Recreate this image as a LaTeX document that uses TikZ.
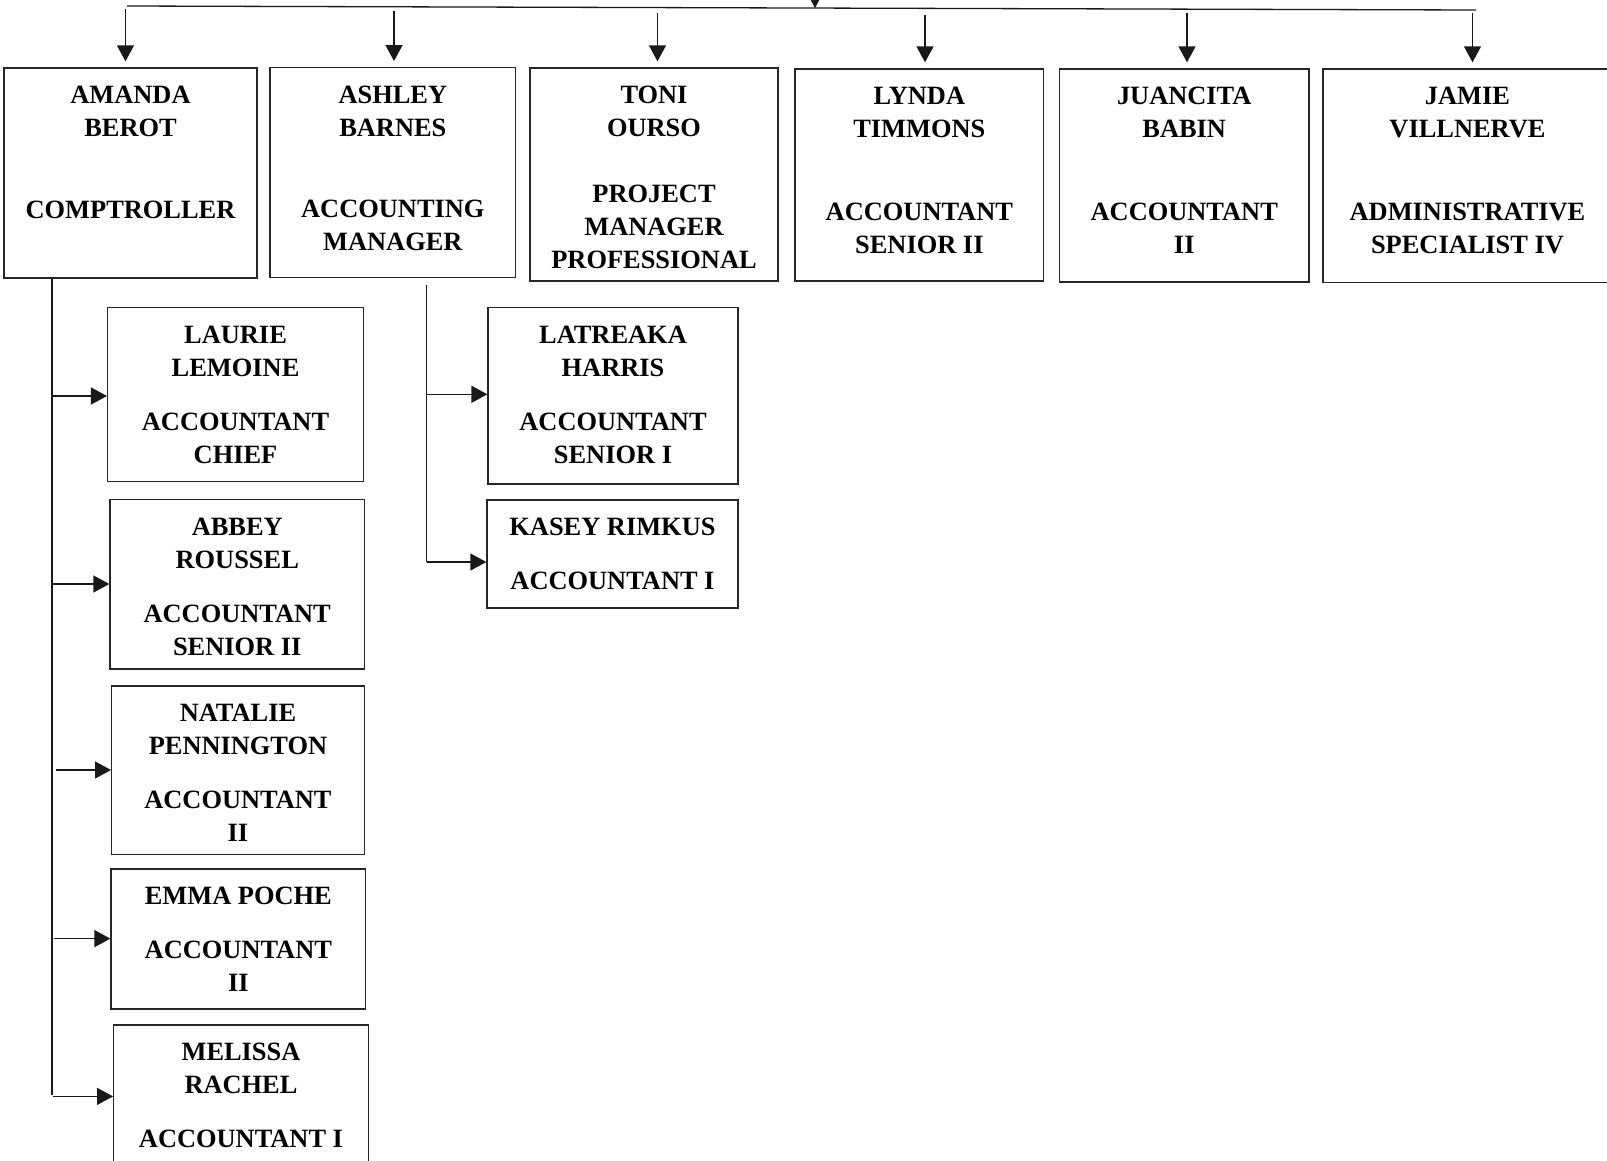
\documentclass[tikz,border=0pt]{standalone}
\usepackage{fontspec}
\setmainfont{Liberation Serif}
\usetikzlibrary{arrows.meta,fit,calc}
\begin{document}
\begin{tikzpicture}[x=1pt,y=-1pt,
  pbox/.style={draw=black!85,line width=1.3pt,inner sep=0pt,rectangle},
  ptxt/.style={anchor=base,inner sep=0pt,font=\fontsize{26.4}{33}\selectfont\bfseries},
  conn/.style={line width=1.3pt,black!90},
  arr/.style={conn,-{Triangle[length=16pt,width=17pt]}}]
\useasboundingbox (0,0) rectangle (1607,1160);
\clip (0,0) rectangle (1607,1160);
% boxes
\node[pbox,fit={(4,68) (257,278)}] (amanda) {};
\node[pbox,fit={(270,67.7) (515.7,277.7)}] (ashley) {};
\node[pbox,fit={(530,68) (778,281)}] (toni) {};
\node[pbox,fit={(795,69) (1043.7,281)}] (lynda) {};
\node[pbox,fit={(1059.5,69) (1309,282)}] (juancita) {};
\node[pbox,fit={(1323,69) (1612,282.7)}] (jamie) {};
\node[pbox,fit={(107.6,307.7) (363.5,481.7)}] (laurie) {};
\node[pbox,fit={(110,499.7) (364.5,669)}] (abbey) {};
\node[pbox,fit={(111.7,686) (364.3,854.6)}] (natalie) {};
\node[pbox,fit={(111,869) (365.7,1009)}] (emma) {};
\node[pbox,fit={(113.7,1025) (368.3,1190)}] (melissa) {};
\node[pbox,fit={(488,307.7) (738,484)}] (latreaka) {};
\node[pbox,fit={(487,500) (738,608)}] (kasey) {};
% texts
\node[ptxt] (amandaT) at ($(amanda.north)+(0,36)$) {\begin{tabular}[t]{c}AMANDA\\BEROT\\[48.7pt]COMPTROLLER\end{tabular}};
\node[ptxt] (ashleyT) at ($(ashley.north)+(0,36)$) {\begin{tabular}[t]{c}ASHLEY\\BARNES\\[48.7pt]ACCOUNTING\\MANAGER\end{tabular}};
\node[ptxt] (toniT) at ($(toni.north)+(0,36)$) {\begin{tabular}[t]{c}TONI\\OURSO\\[33pt]PROJECT\\MANAGER\\PROFESSIONAL\end{tabular}};
\node[ptxt] (lyndaT) at ($(lynda.north)+(0,36)$) {\begin{tabular}[t]{c}LYNDA\\TIMMONS\\[50pt]ACCOUNTANT\\SENIOR II\end{tabular}};
\node[ptxt] (juancitaT) at ($(juancita.north)+(0,36)$) {\begin{tabular}[t]{c}JUANCITA\\BABIN\\[50pt]ACCOUNTANT\\II\end{tabular}};
\node[ptxt] (jamieT) at ($(jamie.north)+(0,36)$) {\begin{tabular}[t]{c}JAMIE\\VILLNERVE\\[50pt]ADMINISTRATIVE\\SPECIALIST IV\end{tabular}};
\node[ptxt] (laurieT) at ($(laurie.north)+(0,36)$) {\begin{tabular}[t]{c}LAURIE\\LEMOINE\\[21.5pt]ACCOUNTANT\\CHIEF\end{tabular}};
\node[ptxt] (abbeyT) at ($(abbey.north)+(0,36)$) {\begin{tabular}[t]{c}ABBEY\\ROUSSEL\\[21.5pt]ACCOUNTANT\\SENIOR II\end{tabular}};
\node[ptxt] (natalieT) at ($(natalie.north)+(0,36)$) {\begin{tabular}[t]{c}NATALIE\\PENNINGTON\\[21.5pt]ACCOUNTANT\\II\end{tabular}};
\node[ptxt] (emmaT) at ($(emma.north)+(0,36)$) {\begin{tabular}[t]{c}EMMA POCHE\\[21.5pt]ACCOUNTANT\\II\end{tabular}};
\node[ptxt] (melissaT) at ($(melissa.north)+(0,36)$) {\begin{tabular}[t]{c}MELISSA\\RACHEL\\[21.5pt]ACCOUNTANT I\end{tabular}};
\node[ptxt] (latreakaT) at ($(latreaka.north)+(0,36)$) {\begin{tabular}[t]{c}LATREAKA\\HARRIS\\[21.5pt]ACCOUNTANT\\SENIOR I\end{tabular}};
\node[ptxt] (kaseyT) at ($(kasey.north)+(0,36)$) {\begin{tabular}[t]{c}KASEY RIMKUS\\[21.5pt]ACCOUNTANT I\end{tabular}};
% top bus
\coordinate (top) at (815,-20);
\coordinate (busL) at (127,6);
\coordinate (busR) at (1476,10);
\coordinate (busM) at (815,8);
\draw[conn] (busL) -- (busR);
\draw[arr] (top) -- (busM);
\coordinate (a1) at (125.5,9.3);
\coordinate (a2) at (394,11);
\coordinate (a3) at (657.5,12.7);
\coordinate (a4) at (925,14.7);
\coordinate (a5) at (1187,12.7);
\coordinate (a6) at (1472.5,12.7);
\draw[arr,shorten >=6pt] (a1) -- (a1 |- amanda.north);
\draw[arr,shorten >=6pt] (a2) -- (a2 |- ashley.north);
\draw[arr,shorten >=6pt] (a3) -- (a3 |- toni.north);
\draw[arr,shorten >=6pt] (a4) -- (a4 |- lynda.north);
\draw[arr,shorten >=6pt] (a5) -- (a5 |- juancita.north);
\draw[arr,shorten >=6pt] (a6) -- (a6 |- jamie.north);
% left tree
\coordinate (lv) at (52,1094.6);
\draw[conn] (lv |- amanda.south) -- (lv);
\coordinate (h1) at (52,396);
\coordinate (h2) at (52,584);
\coordinate (h3) at (56,770);
\coordinate (h4) at (54,938.6);
\coordinate (h5) at (53,1096.4);
\draw[arr] (h1) -- (h1 -| laurie.west);
\draw[arr] (h2) -- (h2 -| abbey.west);
\draw[arr] (h3) -- (h3 -| natalie.west);
\draw[arr] (h4) -- (h4 -| emma.west);
\draw[arr] (h5) -- (h5 -| melissa.west);
% ashley tree
\coordinate (rvt) at (426.6,285);
\coordinate (h6) at (426.6,394.3);
\coordinate (h7) at (426.6,562);
\draw[conn] (rvt) -- (h7);
\draw[arr] (h6) -- (h6 -| latreaka.west);
\draw[arr] (h7) -- (h7 -| kasey.west);
\end{tikzpicture}
\end{document}
